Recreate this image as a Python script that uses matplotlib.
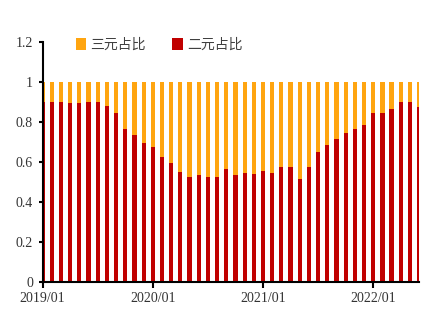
import matplotlib.pyplot as plt
import numpy as np

# monthly share, 2019/01 .. 2022/06
months = [f'{y}/{m:02d}' for y in range(2019, 2023) for m in range(1, 13)][:42]
binary_share = [0.90, 0.898, 0.90, 0.895, 0.895, 0.90, 0.90, 0.878, 0.848, 0.768,
                0.738, 0.695, 0.678, 0.628, 0.595, 0.553, 0.525, 0.536, 0.527, 0.528,
                0.565, 0.535, 0.545, 0.543, 0.555, 0.545, 0.575, 0.575, 0.515, 0.578,
                0.65, 0.685, 0.717, 0.748, 0.767, 0.785, 0.847, 0.848, 0.867, 0.90,
                0.90, 0.877]
ternary_share = [1 - v for v in binary_share]
tick_labels = ['2019/01', '2020/01', '2021/01', '2022/01']

plt.rcParams['font.family'] = ['Liberation Serif', 'Noto Sans CJK SC']

fig = plt.figure(figsize=(4.44, 3.28), dpi=100)
ax = fig.add_axes([0.096, 0.139, 0.848, 0.733])

x = np.arange(len(months))
ax.bar(x, binary_share, width=0.46, color='#C00000', label='二元占比')
ax.bar(x, ternary_share, width=0.46, bottom=binary_share, color='#FFA510', label='三元占比')

ax.set_xlim(0, len(months) - 1)
ax.set_ylim(0, 1.2)
ax.set_yticks([0, 0.2, 0.4, 0.6, 0.8, 1.0, 1.2])
ax.set_yticklabels(['0', '0.2', '0.4', '0.6', '0.8', '1', '1.2'])
ax.set_xticks([months.index(t) for t in tick_labels])
ax.set_xticklabels(tick_labels)

for s in ['top', 'right']:
    ax.spines[s].set_visible(False)
for s in ['left', 'bottom']:
    ax.spines[s].set_linewidth(1.5)
ax.tick_params(axis='y', length=3, width=1.5, labelsize=10, colors='#000000', labelcolor='#333333', pad=4)
ax.tick_params(axis='x', length=4, width=1.5, labelsize=10, labelcolor='#333333', pad=3)

handles, labels = ax.get_legend_handles_labels()
leg = ax.legend(handles[::-1], labels[::-1], loc='upper left', bbox_to_anchor=(0.055, 1.068),
                ncol=2, frameon=False, handlelength=0.75, handleheight=0.95, handletextpad=0.3,
                columnspacing=1.9, prop={'family': ['Noto Sans CJK SC'], 'size': 10})
for t in leg.get_texts():
    t.set_color('#404040')

fig.savefig('out.png', dpi=100)
